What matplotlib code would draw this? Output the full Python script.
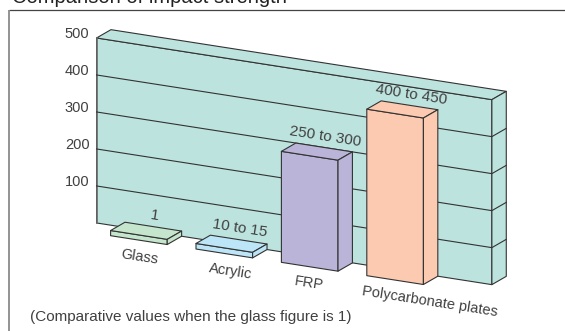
import matplotlib.pyplot as plt
from matplotlib.patches import Polygon
import numpy as np

plt.rcParams['font.family'] = ['Liberation Sans', 'DejaVu Sans']

# impact strength relative to glass (= 1)
materials = ["Glass", "Acrylic", "FRP", "Polycarbonate plates"]
low_values = [1, 10, 250, 400]
high_values = [1, 15, 300, 450]
bar_colors = ["#c5e6cd", "#bde5f8", "#bab4d9", "#fcc9b1"]
y_ticks = [100, 200, 300, 400, 500]
y_max = 500

# oblique projection: category units along the floor, depth units, value units
S0, STEP = 110.6, 85.4      # left edge of first bar and spacing (px)
SLOPE = 0.156               # floor runs downhill to the right
DX, DY = 14.4, 8.3          # one depth unit on screen
Y0 = 218.45
PX_PER_UNIT = 0.37
BAR_W = 0.663
WALL_L, WALL_R = -0.333, 4.296
MIN_SLAB = 14               # thin bars still get a visible slab

EDGE = "#333333"
WALL = "#bde3df"
TXT = "#404040"
ANGLE = -np.degrees(np.arctan(SLOPE))


def proj(c, d, v):
    s = S0 + c * STEP
    return s + d * DX, Y0 + s * SLOPE - d * DY - v * PX_PER_UNIT


def face(ax, pts, color, z, lw=0.8):
    ax.add_patch(Polygon([proj(*p) for p in pts], closed=True, facecolor=color,
                         edgecolor=EDGE, linewidth=lw, joinstyle='round', zorder=z))


fig = plt.figure(figsize=(5.65, 3.31), dpi=100)
ax = fig.add_axes([0, 0, 1, 1])
ax.set_xlim(0, 565)
ax.set_ylim(331, 0)
ax.axis('off')

# title (runs off the top) and the frame
ax.text(12, 3.3, "Comparison of impact strength", fontsize=14.5, color="#222222",
        ha='left', va='baseline')
ax.plot([9, 565], [9.5, 9.5], color="#444444", lw=0.9, solid_capstyle='butt')
ax.plot([9, 9], [9.5, 331], color="#8a8a8a", lw=1.3, solid_capstyle='butt')

# back wall
face(ax, [(WALL_L, 1, 0), (WALL_R, 1, 0), (WALL_R, 1, y_max), (WALL_L, 1, y_max)], WALL, 1)
face(ax, [(WALL_L, 1, y_max), (WALL_R, 1, y_max), (WALL_R, 2, y_max), (WALL_L, 2, y_max)], WALL, 1)
face(ax, [(WALL_R, 1, 0), (WALL_R, 2, 0), (WALL_R, 2, y_max), (WALL_R, 1, y_max)], WALL, 1)
x0, y0 = proj(WALL_L, 1, 0)
x1, y1 = proj(WALL_L, 1, y_max)
ax.plot([x0, x1], [y0, y1], color="#6a6a6a", lw=1.2, zorder=2)

for v in y_ticks[:-1]:
    xa, ya = proj(WALL_L, 1, v)
    xb, yb = proj(WALL_R, 1, v)
    xc, yc = proj(WALL_R, 2, v)
    ax.plot([xa, xb, xc], [ya, yb, yc], color=EDGE, lw=0.8, zorder=2)

for v in y_ticks:
    xt, yt = proj(WALL_L, 1, v)
    ax.text(xt - 7, yt - 3.5, str(v), fontsize=10.5, color=TXT, ha='right', va='center')

# bars
label_ha = ["center", "center", "center", "left"]
label_dx = [1, 6.5, -0.5, 0]
for i, name in enumerate(materials):
    h = max(high_values[i], MIN_SLAB)
    c0, c1 = i, i + BAR_W
    col = bar_colors[i]
    face(ax, [(c0, 0, 0), (c1, 0, 0), (c1, 0, h), (c0, 0, h)], col, 3)
    face(ax, [(c0, 0, h), (c1, 0, h), (c1, 1, h), (c0, 1, h)], col, 3)
    face(ax, [(c1, 0, 0), (c1, 1, 0), (c1, 1, h), (c1, 0, h)], col, 3)

    if low_values[i] == high_values[i]:
        vtxt = f"{low_values[i]}"
    else:
        vtxt = f"{low_values[i]} to {high_values[i]}"
    xv, yv = proj(i + BAR_W / 2, 1, h)
    ax.text(xv + 1.5, yv - 11, vtxt, fontsize=11, color=TXT, ha='center', va='center',
            rotation=ANGLE, rotation_mode='anchor', zorder=4)

    if label_ha[i] == "left":
        xl, yl = proj(i - 0.055, 0, 0)
    else:
        xl, yl = proj(i + BAR_W / 2, 0, 0)
    xl += label_dx[i]
    yl += label_dx[i] * SLOPE
    ax.text(xl, yl + 16.5, name, fontsize=10.5, color=TXT, ha=label_ha[i], va='center',
            rotation=ANGLE, rotation_mode='anchor', zorder=4)

ax.text(30, 316.5, "(Comparative values when the glass figure is 1)", fontsize=11,
        color=TXT, ha='left', va='center')

fig.savefig("out.png", dpi=100)
